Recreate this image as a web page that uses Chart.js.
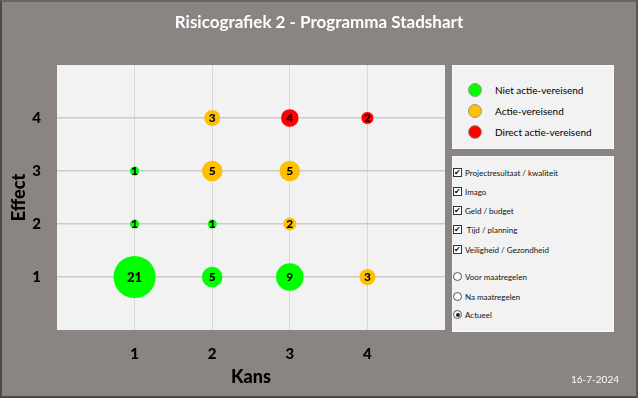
<!DOCTYPE html>
<html>
<head>
<meta charset="utf-8">
<script src="https://cdn.jsdelivr.net/npm/chart.js@4/dist/chart.umd.min.js"></script>
<style>
  html,body{margin:0;padding:0;}
  body{width:638px;height:398px;overflow:hidden;font-family:Lato,"Open Sans",sans-serif;}
  #frame{position:absolute;left:0;top:0;width:634px;height:394px;background:#8a8483;border:2px solid #4a4a4a;border-top-color:#6a6665;border-right-color:#5a5655;}
  #wrap{position:absolute;left:0;top:0;width:638px;height:398px;}
  #title{position:absolute;left:0;top:10px;width:638px;text-align:center;color:#fff;font-weight:bold;font-size:17px;line-height:24px;}
  #date{position:absolute;left:560px;top:373px;width:70px;text-align:center;color:#fff;font-size:10px;}
  .box{position:absolute;left:452px;width:162px;background:#f2f2f2;border:1px solid #fafafa;box-sizing:border-box;}
  #leg1{top:65px;height:84px;}
  #leg2{top:156px;height:176px;}
  .lrow{position:absolute;left:15px;height:16px;font-size:10px;line-height:16px;color:#000;}
  .dot{position:absolute;left:0;top:1px;width:14px;height:14px;border-radius:50%;border:1px solid #999;box-sizing:border-box;}
  .ltxt{position:absolute;left:27px;white-space:nowrap;}
  .crow{position:absolute;left:0;height:12px;font-size:8px;line-height:12px;color:#111;white-space:nowrap;}
  .cb{display:inline-block;width:9px;height:9px;border:1px solid #333;box-sizing:border-box;background:#fff;vertical-align:middle;margin-right:3px;position:relative;top:-1px;font-size:8px;line-height:7px;text-align:center;}
  .rb{display:inline-block;width:9px;height:9px;border:1px solid #555;border-radius:50%;box-sizing:border-box;background:#fff;vertical-align:middle;margin-right:3px;position:relative;top:-1px;}
  .rb.on::after{content:"";position:absolute;left:1.5px;top:1.5px;width:4px;height:4px;border-radius:50%;background:#222;}
</style>
</head>
<body>
<div id="frame"></div>
<div id="wrap"><canvas id="c" width="638" height="398"></canvas></div>
<div id="title">Risicografiek 2 - Programma Stadshart</div>
<div id="date">16-7-2024</div>
<div class="box" id="leg1"></div>
<div class="box" id="leg2"></div>
<script>
// ---- data ----
const tickValues = [1, 2, 3, 4];
const xAxisTitle = 'Kans';
const yAxisTitle = 'Effect';
const seriesNames = ['Niet actie-vereisend', 'Actie-vereisend', 'Direct actie-vereisend'];
const seriesColors = ['#00ff00', '#ffc000', '#ff0000'];
const greenX = [1, 2, 3, 1, 2, 1];
const greenY = [1, 1, 1, 2, 2, 3];
const greenCount = [21, 5, 9, 1, 1, 1];
const orangeX = [2, 2, 3, 3, 4];
const orangeY = [4, 3, 3, 2, 1];
const orangeCount = [3, 5, 5, 2, 3];
const redX = [3, 4];
const redY = [4, 4];
const redCount = [4, 2];
const filterItems = ['Projectresultaat / kwaliteit', 'Imago', 'Geld / budget', ' Tijd / planning', 'Veiligheid / Gezondheid'];
const radioItems = ['Voor maatregelen', 'Na maatregelen', 'Actueel'];
const radioSelected = 'Actueel';

// ---- legends (HTML) ----
const leg1 = document.getElementById('leg1');
const legRowTops = [16, 37, 58];
seriesNames.forEach((n, i) => {
  const r = document.createElement('div');
  r.className = 'lrow';
  r.style.top = (legRowTops[i]) + 'px';
  r.innerHTML = '<span class="dot" style="background:' + seriesColors[i] + '"></span><span class="ltxt">' + n + '</span>';
  leg1.appendChild(r);
});
const leg2 = document.getElementById('leg2');
const cbTops = [10, 29, 48, 67, 87];
filterItems.forEach((n, i) => {
  const r = document.createElement('div');
  r.className = 'crow';
  r.style.top = cbTops[i] + 'px';
  r.innerHTML = '<span class="cb">&#10004;</span>' + n;
  leg2.appendChild(r);
});
const rbTops = [114, 134, 152];
radioItems.forEach((n, i) => {
  const r = document.createElement('div');
  r.className = 'crow';
  r.style.top = rbTops[i] + 'px';
  r.innerHTML = '<span class="rb' + (n === radioSelected ? ' on' : '') + '"></span>' + n;
  leg2.appendChild(r);
});

// ---- chart ----
function mk(xs, ys, cs) { return xs.map((x, i) => ({ x: x, y: ys[i], count: cs[i] })); }
const datasets = [
  { label: seriesNames[0], data: mk(greenX, greenY, greenCount), backgroundColor: seriesColors[0], borderColor: 'rgba(0,0,0,0)', borderWidth: 0 },
  { label: seriesNames[1], data: mk(orangeX, orangeY, orangeCount), backgroundColor: seriesColors[1], borderColor: 'rgba(0,0,0,0)', borderWidth: 0 },
  { label: seriesNames[2], data: mk(redX, redY, redCount), backgroundColor: seriesColors[2], borderColor: 'rgba(255,255,255,0.7)', borderWidth: 1 }
];

const plotBg = {
  id: 'plotBg',
  beforeDraw(chart) {
    const { ctx, chartArea: a } = chart;
    ctx.save();
    ctx.fillStyle = '#f2f2f2';
    ctx.fillRect(a.left, a.top, a.right - a.left, a.bottom - a.top);
    ctx.restore();
  }
};
const bubbleLabels = {
  id: 'bubbleLabels',
  afterDatasetsDraw(chart) {
    const ctx = chart.ctx;
    ctx.save();
    ctx.textAlign = 'center';
    ctx.textBaseline = 'middle';
    ctx.fillStyle = '#000';
    chart.data.datasets.forEach((ds, di) => {
      const meta = chart.getDatasetMeta(di);
      meta.data.forEach((el, i) => {
        const c = ds.data[i].count;
        ctx.font = '900 ' + (c >= 10 ? 13 : 12) + 'px Lato, sans-serif';
        ctx.fillText(String(c), el.x, el.y + 0.5);
      });
    });
    ctx.restore();
  }
};

const gridColor = (ctx) => (ctx.tick && (ctx.tick.value === 0 || ctx.tick.value === 5)) ? 'rgba(0,0,0,0)' : null;

new Chart(document.getElementById('c'), {
  type: 'bubble',
  data: { datasets: datasets },
  plugins: [plotBg, bubbleLabels],
  options: {
    responsive: false,
    animation: false,
    layout: { padding: { left: 0, top: 65, right: 193, bottom: 0 } },
    elements: {
      point: {
        radius: (ctx) => { const d = ctx.raw; return d ? 4.6 * Math.sqrt(d.count) : 3; },
        hoverRadius: 0
      }
    },
    plugins: { legend: { display: false }, tooltip: { enabled: false } },
    scales: {
      x: {
        type: 'linear', min: 0, max: 5,
        afterFit(s) { s.height = 68; },
        afterBuildTicks(s) { s.ticks = [0, ...tickValues, 5].map(v => ({ value: v })); },
        border: { display: false },
        grid: { color: (c) => gridColor(c) || '#d9d9d9', lineWidth: 1, drawTicks: false },
        ticks: {
          padding: 15, color: '#000',
          font: { family: 'Lato', weight: '900', size: 15 },
          callback: (v) => tickValues.includes(v) ? String(v) : ''
        },
        title: { display: true, text: xAxisTitle, color: '#000', font: { family: 'Lato', weight: '900', size: 18 }, padding: { top: 0, bottom: 10 } }
      },
      y: {
        type: 'linear', min: 0, max: 5,
        afterFit(s) { s.width = 57; },
        afterBuildTicks(s) { s.ticks = [0, ...tickValues, 5].map(v => ({ value: v })); },
        border: { display: false },
        grid: { color: (c) => gridColor(c) || '#cbcbcb', lineWidth: 1.5, drawTicks: false },
        ticks: {
          padding: 16, color: '#000',
          font: { family: 'Lato', weight: '900', size: 15 },
          callback: (v) => tickValues.includes(v) ? String(v) : ''
        },
        title: { display: true, text: yAxisTitle, color: '#000', font: { family: 'Lato', weight: '900', size: 18 }, padding: { top: 8, bottom: 0 } }
      }
    }
  }
});
</script>
</body>
</html>
